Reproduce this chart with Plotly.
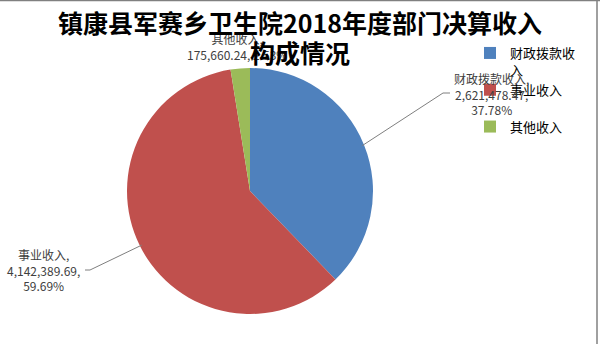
import math
import plotly.graph_objects as go

# ---- data ----
categories = ["财政拨款收入", "事业收入", "其他收入"]
legend_names = ["财政拨款收<br>入", "事业收入<br>&nbsp;", "其他收入"]
values = [2621478.47, 4142389.69, 175660.24]
colors = ["#4F81BD", "#C0504D", "#9BBB59"]
title_lines = ["镇康县军赛乡卫生院2018年度部门决算收入", "构成情况"]

W, H = 600, 344
total = sum(values)
pcts = [v / total * 100 for v in values]

def fmt(v):
    return f"{v:,.2f}"

# pie geometry (pixels)
cx, cy, r = 250, 191, 123
dom_x = [(cx - r) / W, (cx + r) / W]
dom_y = [1 - (cy + r) / H, 1 - (cy - r) / H]

fig = go.Figure()
fig.add_trace(go.Pie(
    labels=legend_names,
    values=values,
    sort=False,
    direction="clockwise",
    rotation=0,
    marker=dict(colors=colors, line=dict(width=0)),
    textinfo="none",
    hoverinfo="value+percent",
    domain=dict(x=dom_x, y=dom_y),
))

def px2paper(x, y):
    return x / W, 1 - y / H

# mid angles of slices (clockwise from 12 o'clock)
mids = []
acc = 0
for v in values:
    mids.append((acc + v / 2) / total * 2 * math.pi)
    acc += v

def edge(i, rr=r):
    a = mids[i]
    return cx + rr * math.sin(a), cy - rr * math.cos(a)

label_color = "#404040"
lfont = dict(family="Noto Sans CJK SC, Noto Sans", size=12, color=label_color)

annotations = []
shapes = []

label_texts = [
    f"{categories[0]},<br>{fmt(values[0])},<br>{pcts[0]:.2f}%",
    f"{categories[1]},<br>{fmt(values[1])},<br>{pcts[1]:.2f}%",
    f"{categories[2]},<br>{fmt(values[2])}, {pcts[2]:.2f}%",
]
label_pos = [(492, 94), (43, 270), (237, 46)]
elbow = [((443, 93), (450, 93)), ((90, 270), (85, 270)), None]

for i in range(3):
    lx, ly = px2paper(*label_pos[i])
    annotations.append(dict(
        x=lx, y=ly, xref="paper", yref="paper", text=label_texts[i],
        showarrow=False, font=lfont, align="center",
        xanchor="center", yanchor="middle",
    ))
    if elbow[i] is not None:
        ex, ey = edge(i, r - 2)
        (bx, by), (tx, ty) = elbow[i]
        p0 = px2paper(ex, ey)
        p1 = px2paper(bx, by)
        p2 = px2paper(tx, ty)
        shapes.append(dict(
            type="path", xref="paper", yref="paper",
            path=f"M {p0[0]},{p0[1]} L {p1[0]},{p1[1]} L {p2[0]},{p2[1]}",
            line=dict(color="#7F7F7F", width=1),
        ))

# title (drawn on top of labels)
tfont = dict(family="Noto Sans CJK SC", size=25, color="#000000")
annotations.append(dict(
    x=0.5, y=1 - 22 / H, xref="paper", yref="paper",
    text=f"<b>{title_lines[0]}</b>", showarrow=False, font=tfont,
    xanchor="center", yanchor="middle",
))
annotations.append(dict(
    x=0.5, y=1 - 52 / H, xref="paper", yref="paper",
    text=f"<b>{title_lines[1]}</b>", showarrow=False, font=tfont,
    xanchor="center", yanchor="middle",
))

# outer frame lines (top and right)
shapes.append(dict(type="line", xref="paper", yref="paper",
                   x0=0, x1=1, y0=1 - 0.5 / H, y1=1 - 0.5 / H,
                   line=dict(color="#808080", width=1.5)))
shapes.append(dict(type="line", xref="paper", yref="paper",
                   x0=597 / W, x1=597 / W, y0=0, y1=1,
                   line=dict(color="#808080", width=1.5)))

fig.update_layout(
    width=W, height=H,
    margin=dict(l=0, r=0, t=0, b=0),
    paper_bgcolor="white", plot_bgcolor="white",
    showlegend=True,
    legend=dict(
        x=470 / W, y=1 - 38 / H, xanchor="left", yanchor="top",
        font=dict(family="Noto Sans CJK SC", size=13, color="#000000"),
        valign="top", bgcolor="rgba(0,0,0,0)",
    ),
    annotations=annotations,
    shapes=shapes,
)

fig.write_html("out.html")
